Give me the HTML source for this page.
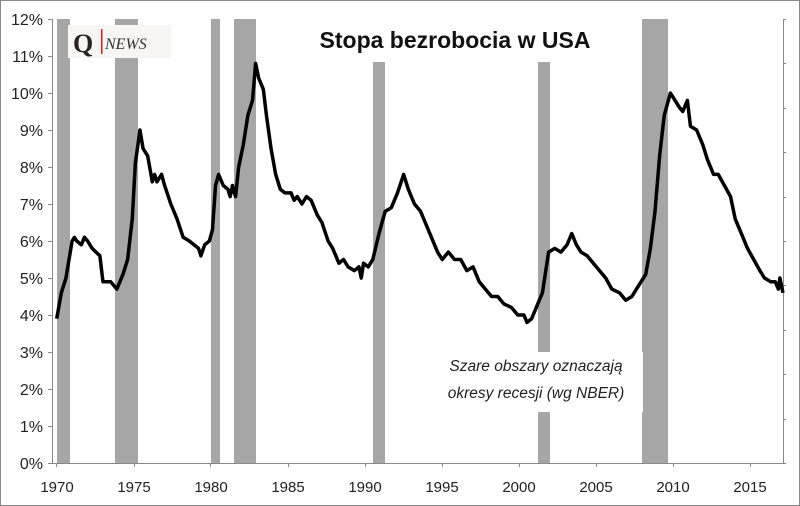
<!DOCTYPE html>
<html><head><meta charset="utf-8"><style>
body{margin:0;background:#fff}
svg{display:block}
</style></head><body>
<svg width="800" height="506" viewBox="0 0 800 506" xmlns="http://www.w3.org/2000/svg" font-family="Liberation Sans, sans-serif">
<rect x="0.5" y="0.5" width="799" height="505" fill="#fff" stroke="#888"/>
<g fill="#a6a6a6">
<rect x="57" y="19" width="13" height="444"/>
<rect x="115" y="19" width="23" height="444"/>
<rect x="211" y="19" width="9" height="444"/>
<rect x="234" y="19" width="22" height="444"/>
<rect x="373" y="62" width="12" height="401"/>
<rect x="538" y="62" width="12" height="401"/>
<rect x="642" y="19" width="26" height="444"/>
</g>
<rect x="436" y="352" width="207" height="60" fill="#fff"/>
<g stroke="#888" stroke-width="1">
<line x1="52.5" y1="19" x2="52.5" y2="463"/>
<line x1="52" y1="463.5" x2="784" y2="463.5"/>
<line x1="783.5" y1="19" x2="783.5" y2="463"/>
</g>
<g stroke="#888">
<path d="M48 19.5h5M48 56.5h5M48 93.5h5M48 130.5h5M48 167.5h5M48 204.5h5M48 241.5h5M48 278.5h5M48 315.5h5M48 352.5h5M48 389.5h5M48 426.5h5M48 463.5h5"/>
<path d="M783 19.5h3M783 63.5h3M783 108.5h3M783 152.5h3M783 197.5h3M783 241.5h3M783 285.5h3M783 330.5h3M783 374.5h3M783 419.5h3M783 463.5h3"/>
<path d="M56.5 463v4M134.5 463v4M210.5 463v4M288.5 463v4M365.5 463v4M442.5 463v4M519.5 463v4M596.5 463v4M673.5 463v4M750.5 463v4"/>
</g>
<g font-size="16" fill="#222" text-anchor="end">
<text x="43" y="25">12%</text><text x="43" y="62">11%</text><text x="43" y="99">10%</text>
<text x="43" y="136">9%</text><text x="43" y="173">8%</text><text x="43" y="210">7%</text>
<text x="43" y="247">6%</text><text x="43" y="284">5%</text><text x="43" y="321">4%</text>
<text x="43" y="358">3%</text><text x="43" y="395">2%</text><text x="43" y="432">1%</text>
<text x="43" y="469">0%</text>
</g>
<g font-size="15" fill="#222" text-anchor="middle">
<text x="57" y="492">1970</text><text x="134" y="492">1975</text><text x="211" y="492">1980</text>
<text x="288" y="492">1985</text><text x="365" y="492">1990</text><text x="442" y="492">1995</text>
<text x="519" y="492">2000</text><text x="596" y="492">2005</text><text x="673" y="492">2010</text>
<text x="750" y="492">2015</text>
</g>
<g transform="translate(56.7,463) scale(15.42,-37)">
<polyline fill="none" stroke="#000" stroke-width="3.5" stroke-linejoin="round" vector-effect="non-scaling-stroke" points="
0.0,3.9 0.3,4.6 0.6,5.0 0.8,5.5 1.0,6.0 1.15,6.1 1.3,6.0 1.6,5.9 1.8,6.1 2.0,6.0 2.3,5.8 2.8,5.6 3.0,4.9 3.5,4.9 3.9,4.7 4.3,5.1 4.6,5.5 4.9,6.6 5.1,8.1 5.4,9.0 5.6,8.5 5.9,8.3 6.2,7.6 6.35,7.8 6.5,7.6 6.8,7.8 7.0,7.5 7.4,7.0 7.8,6.6 8.2,6.1 8.6,6.0 8.9,5.9 9.2,5.8 9.35,5.6 9.6,5.9 9.9,6.0 10.1,6.3 10.3,7.5 10.5,7.8 10.8,7.5 11.1,7.4 11.25,7.2 11.4,7.5 11.6,7.2 11.8,8.0 12.1,8.6 12.4,9.4 12.7,9.8 12.9,10.8 13.1,10.4 13.4,10.1 13.6,9.4 13.9,8.5 14.2,7.8 14.5,7.4 14.8,7.3 15.2,7.3 15.4,7.1 15.6,7.2 15.9,7.0 16.2,7.2 16.5,7.1 16.9,6.7 17.2,6.5 17.6,6.0 17.9,5.8 18.3,5.4 18.6,5.5 18.9,5.3 19.3,5.2 19.6,5.3 19.75,5.0 19.9,5.4 20.2,5.3 20.5,5.5 20.9,6.2 21.3,6.8 21.7,6.9 22.1,7.3 22.5,7.8 22.8,7.4 23.2,7.0 23.6,6.8 23.9,6.5 24.3,6.1 24.7,5.7 25.0,5.5 25.4,5.7 25.8,5.5 26.2,5.5 26.6,5.2 27.0,5.3 27.4,4.9 27.8,4.7 28.2,4.5 28.6,4.5 29.0,4.3 29.5,4.2 29.9,4.0 30.3,4.0 30.5,3.8 30.8,3.9 31.1,4.2 31.5,4.6 31.9,5.7 32.3,5.8 32.7,5.7 33.1,5.9 33.4,6.2 33.7,5.9 34.0,5.7 34.4,5.6 34.8,5.4 35.2,5.2 35.6,5.0 36.0,4.7 36.5,4.6 36.9,4.4 37.3,4.5 37.6,4.7 37.9,4.9 38.2,5.1 38.5,5.8 38.8,6.8 39.1,8.3 39.4,9.4 39.6,9.7 39.8,10.0 40.1,9.8 40.4,9.6 40.6,9.5 40.9,9.8 41.1,9.1 41.5,9.0 41.9,8.6 42.2,8.2 42.6,7.8 42.9,7.8 43.3,7.5 43.7,7.2 44.0,6.6 44.4,6.2 44.8,5.8 45.2,5.5 45.6,5.2 45.9,5.0 46.3,4.9 46.6,4.9 46.8,4.7 46.9,5.0 47.1,4.6"/>
</g>
<rect x="68" y="25" width="103" height="33" fill="#f8f6f4"/>
<text x="73" y="52" font-family="Liberation Serif, serif" font-weight="bold" font-size="26" fill="#2a2220">Q</text>
<rect x="101" y="29" width="1.5" height="25" fill="#d02020"/>
<text x="105" y="49" font-family="Liberation Serif, serif" font-style="italic" font-size="16" fill="#333">NEWS</text>
<text x="455" y="48" text-anchor="middle" font-size="23" font-weight="bold" fill="#111">Stopa bezrobocia w USA</text>
<g font-size="15.5" font-style="italic" fill="#222" text-anchor="middle">
<text x="536" y="371">Szare obszary oznaczają</text>
<text x="536" y="398">okresy recesji (wg NBER)</text>
</g>
</svg>
</body></html>
